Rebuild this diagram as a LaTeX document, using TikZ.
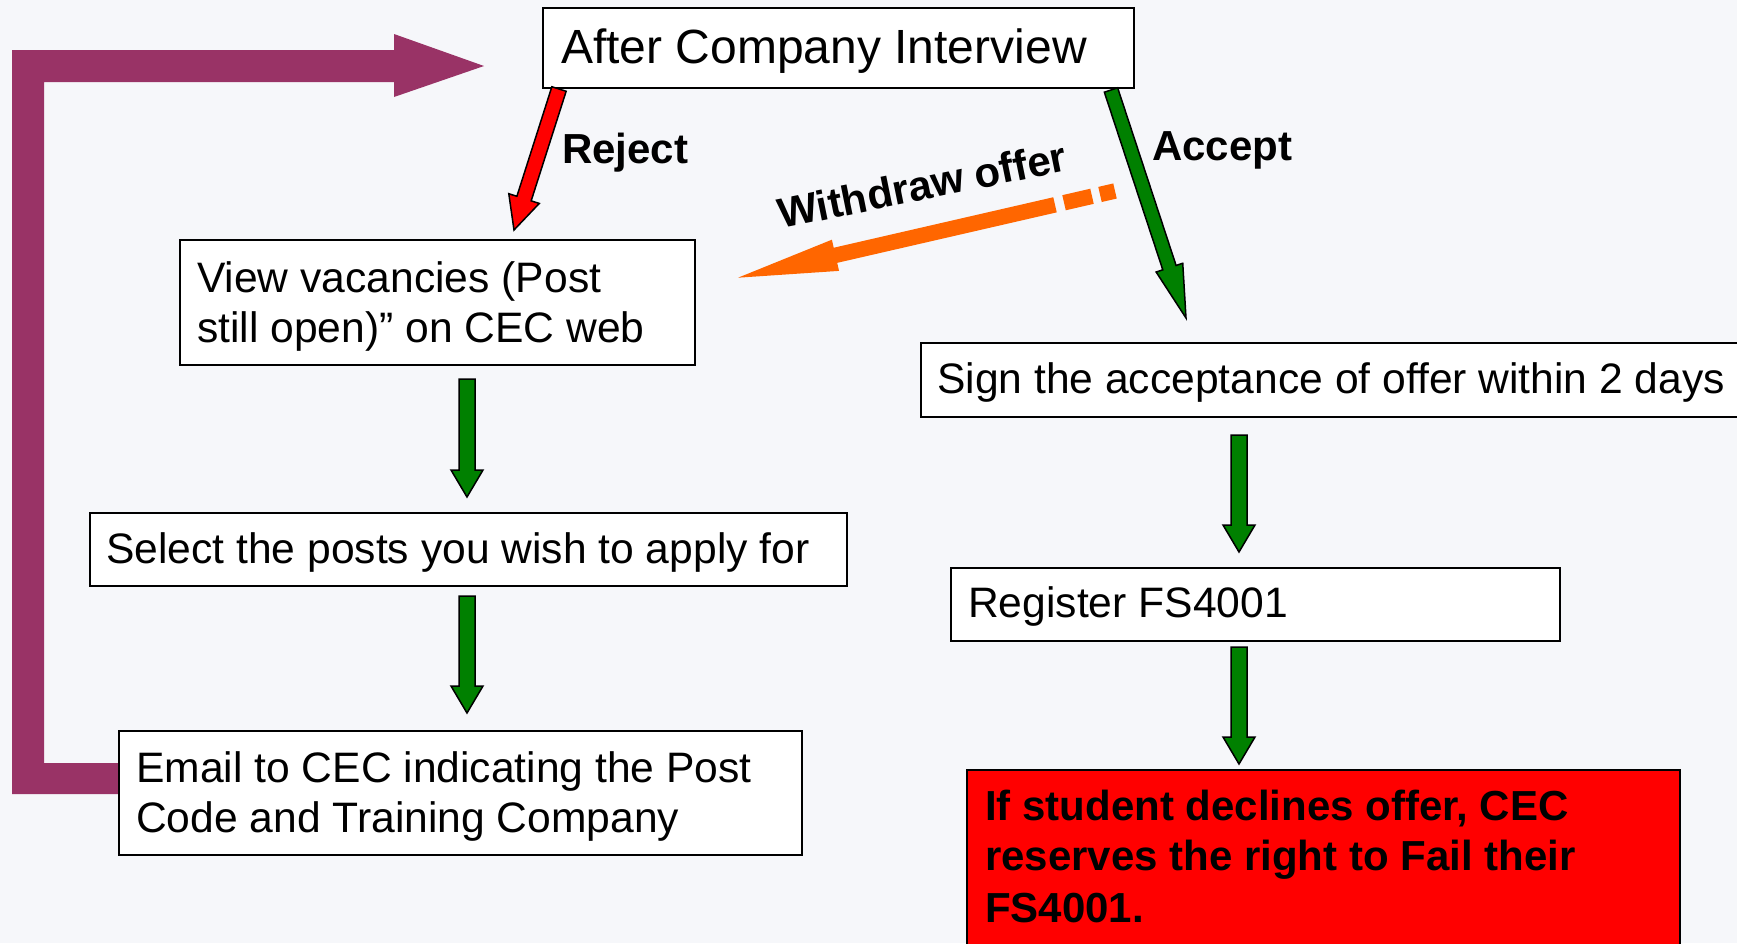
\documentclass[tikz,border=0pt]{standalone}
\usepackage{fontspec}
\setmainfont{Liberation Sans}
\usetikzlibrary{calc}
\definecolor{bgc}{RGB}{246,247,250}
\definecolor{plum}{RGB}{153,51,102}
\definecolor{grn}{RGB}{0,128,0}
\definecolor{orng}{RGB}{255,102,0}
\definecolor{rd}{RGB}{255,0,0}
% block arrow: #1 style, #2 start, #3 tip, #4 half shaft, #5 half head, #6 head length
\newcommand\blockarr[6]{%
  \coordinate (tmpH) at ($(#3)!#6!(#2)$);
  \draw[#1] ($(#2)!#4!90:(#3)$) -- ($(tmpH)!#4!90:(#3)$) -- ($(tmpH)!#5!90:(#3)$) -- (#3)
    -- ($(tmpH)!#5!-90:(#3)$) -- ($(tmpH)!#4!-90:(#3)$) -- ($(#2)!#4!-90:(#3)$) -- cycle;
}
\begin{document}
\begin{tikzpicture}[x=1pt,y=-1pt,
  box/.style={draw=black, line width=1.8pt, fill=white, anchor=north west, inner sep=0pt},
  txt/.style={anchor=base west, inner sep=0pt, font=\fontsize{42.6}{50}\selectfont},
  lbl/.style={anchor=base west, inner sep=0pt, font=\fontsize{42}{50}\selectfont\bfseries},
  garrow/.style={fill=grn, draw=black, line width=1.5pt, line join=miter},
  rarrow/.style={fill=rd, draw=black, line width=1.5pt, line join=miter},
  oarrow/.style={fill=orng, draw=none}]
\fill[bgc] (0,0) rectangle (1737,943);
\useasboundingbox (0,0) rectangle (1737,943);

% purple return arrow
\fill[plum] (12,50) -- (394,50) -- (394,34) -- (484,66) -- (394,97) -- (394,82)
  -- (44,82) -- (44,763) -- (118,763) -- (118,794) -- (12,794) -- cycle;

% boxes
\node[box, minimum width=591pt, minimum height=80pt] (after) at (542,7) {};
\node[box, minimum width=515pt, minimum height=125pt] (view) at (179,239) {};
\node[box, minimum width=757pt, minimum height=73pt] (select) at (89,512) {};
\node[box, minimum width=683pt, minimum height=124pt] (email) at (118,730) {};
\node[box, minimum width=840pt, minimum height=74pt] (sign) at (920,342) {};
\node[box, minimum width=609pt, minimum height=73pt] (register) at (950,567) {};
\node[box, fill=rd, minimum width=713pt, minimum height=200pt] (warn) at (966,769) {};

% texts
\node[txt, font=\fontsize{48}{56}\selectfont] (tafter) at (561,63) {After Company Interview};
\node[txt] (tview1) at (197,292) {View vacancies (Post};
\node[txt] (tview2) at (197,342) {still open)” on CEC web};
\node[txt] (tselect) at (106,563) {Select the posts you wish to apply for};
\node[txt] (temail1) at (136,782) {Email to CEC indicating the Post};
\node[txt] (temail2) at (136,832) {Code and Training Company};
\node[txt] (tsign) at (937,393) {Sign the acceptance of offer within 2 days};
\node[txt] (treg) at (968,617) {Register FS4001};
\node[lbl] (twarn1) at (985,820) {If student declines offer, CEC};
\node[lbl] (twarn2) at (985,870) {reserves the right to Fail their};
\node[lbl] (twarn3) at (985,922) {FS4001.};

% labels
\node[lbl] (lreject) at (562,163) {Reject};
\node[lbl] (laccept) at (1152,160) {Accept};
\node[lbl, rotate=11.5] (lwithdraw) at (781,229) {Withdraw offer};

% connector end points
\coordinate (g1a) at (467,379);  \coordinate (g1b) at (467,497);
\coordinate (g2a) at (467,596);  \coordinate (g2b) at (467,713);
\coordinate (g3a) at (1239,435); \coordinate (g3b) at (1239,552);
\coordinate (g4a) at (1239,647); \coordinate (g4b) at (1239,764);
\coordinate (ra) at (559,89);    \coordinate (rb) at (514,230);
\coordinate (aa) at (1111,90);   \coordinate (ab) at (1186,318);
\coordinate (oa) at (1115,191);  \coordinate (om) at (1055,204.8); \coordinate (ob) at (738,277.7);

% green arrows
\blockarr{garrow}{g1a}{g1b}{8pt}{16pt}{27pt}
\blockarr{garrow}{g2a}{g2b}{8pt}{16pt}{27pt}
\blockarr{garrow}{g3a}{g3b}{8pt}{16pt}{27pt}
\blockarr{garrow}{g4a}{g4b}{8pt}{16pt}{27pt}
% reject / accept
\blockarr{rarrow}{ra}{rb}{7.5pt}{16pt}{33pt}
\blockarr{garrow}{aa}{ab}{7pt}{14pt}{53pt}
% withdraw offer
\draw[orng, line width=15.5pt, dash pattern=on 15.4pt off 8.2pt on 28.7pt off 10pt on 60pt] (oa) -- (om);
\blockarr{oarrow}{om}{ob}{7.75pt}{16pt}{100pt}
\end{tikzpicture}
\end{document}
